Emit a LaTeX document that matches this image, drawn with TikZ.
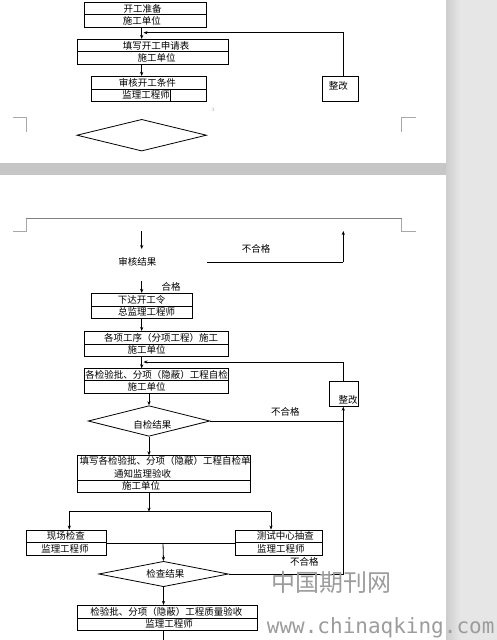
\documentclass[tikz,border=0pt]{standalone}
\usepackage{fontspec}
\usetikzlibrary{shapes.geometric,arrows.meta}
\newfontfamily\cjk{Noto Sans CJK SC}
\newfontfamily\wmmono{DejaVu Sans Mono}
\definecolor{gapgray}{HTML}{C6C6C6}
\definecolor{sidegray}{HTML}{E6E6E6}
\definecolor{shadowgray}{HTML}{CDCDCD}
\definecolor{markgray}{HTML}{A8A8A8}
\definecolor{hdrgray}{HTML}{808080}
\definecolor{wmgray}{HTML}{9C9C9C}
\definecolor{pnum}{HTML}{A8A8C0}
\begin{document}
\begin{tikzpicture}[x=1pt,y=-1pt,
  row/.style={draw, line width=0.8pt, rectangle, inner sep=0pt},
  txt/.style={font=\cjk\fontsize{9.5}{10}\selectfont, inner sep=0pt},
  dia/.style={draw, line width=0.8pt, diamond, inner sep=0pt, aspect=4},
  arr/.style={-{Stealth[length=4pt,width=3.2pt]}, line width=0.8pt},
  ln/.style={line width=0.8pt},
  cropmark/.style={draw=markgray, line width=0.6pt}]
\useasboundingbox (0,0) rectangle (497,640);
% background
\fill[white] (0,0) rectangle (497,640);
\fill[gapgray] (0,163) rectangle (446,175);
\fill[sidegray] (446,0) rectangle (497,640);
\shade[left color=shadowgray, right color=sidegray] (446,0) rectangle (460,640);

% helper x coordinates
\coordinate (xa) at (141.7,0);
\coordinate (xb) at (149,0);
\coordinate (xc) at (163,0);
\coordinate (xr) at (343.3,0);

% ---------- page 1 ----------
\node[row, minimum width=121.6pt, minimum height=12.4pt] (b1t) at (145.5,8.5) {};
\node[row, minimum width=121.6pt, minimum height=12.6pt] (b1b) at (145.5,21) {};
\node[txt] (t1a) at (142.5,8.5) {开工准备};
\node[txt] (t1b) at (141.8,21) {施工单位};

\node[row, minimum width=151pt, minimum height=12.4pt] (b2t) at (152.8,45.5) {};
\node[row, minimum width=151pt, minimum height=12.6pt] (b2b) at (152.8,58) {};
\node[txt] (t2a) at (156,45.5) {填写开工申请表};
\node[txt] (t2b) at (156.5,58) {施工单位};

\node[row, minimum width=114.6pt, minimum height=13pt] (b3t) at (149,82.8) {};
\node[row, minimum width=114.6pt, minimum height=12pt] (b3b) at (149,95.3) {};
\node[txt] (t3a) at (147.3,82.8) {审核开工条件};
\node[txt] (t3b) at (146.2,95.3) {监理工程师};
\draw[line width=1.1pt] (170.7,90.3) -- (170.7,100.5);

\node[row, minimum width=36pt, minimum height=25pt] (z1) at (340.3,88.8) {};
\node[txt] (tz1) at (338.3,86) {整改};

\node[dia, minimum width=129.6pt, minimum height=31.7pt] (d1) at (141.7,135.2) {};

\node[font=\fontsize{5}{5}\selectfont, text=pnum, inner sep=0pt] (pg) at (213,110) {3};

\coordinate (f1) at (143.5,32.7);
\draw[arr] (b1b.south -| xa) -- (b2t.north -| xa);
\draw[arr] (b2b.south -| xa) -- (b3t.north -| xa);
\draw[arr] (z1.north -| xr) |- (f1);

% crop marks page 1
\draw[cropmark] (13.3,117.3) -- (26.3,117.3) -- (26.3,131.7);
\draw[cropmark] (415.7,117.3) -- (401.7,117.3) -- (401.7,131.7);

% ---------- page 2 ----------
\draw[cropmark] (13.3,231.7) -- (26.3,231.7) -- (26.3,218.3);
\draw[cropmark] (415.7,231.7) -- (401.7,231.7) -- (401.7,218.3);
\draw[draw=hdrgray, line width=0.6pt] (26.3,218.3) -- (401.7,218.3);

\coordinate (p2a) at (141.7,231);
\coordinate (p2b) at (141.7,249);
\coordinate (p2c) at (141.7,281);
\coordinate (nr1) at (207,262.3);
\coordinate (p2r) at (343.3,231);
\node[txt] (rs) at (137.3,262.3) {审核结果};
\node[txt] (ng1) at (256,249.3) {不合格};
\node[txt] (ok1) at (171,286.7) {合格};
\draw[arr] (p2a) -- (p2b);
\draw[ln] (nr1) -- (nr1 -| xr);
\draw[arr] (nr1 -| xr) -- (p2r);

\node[row, minimum width=101pt, minimum height=13pt] (b4t) at (142.2,299.8) {};
\node[row, minimum width=101pt, minimum height=12pt] (b4b) at (142.2,312.3) {};
\node[txt] (t4a) at (141.7,299.8) {下达开工令};
\node[txt] (t4b) at (146.7,312.3) {总监理工程师};
\draw[arr] (p2c) -- (b4t.north -| xa);

\node[row, minimum width=143.6pt, minimum height=12.7pt] (b5t) at (156.5,337.7) {};
\node[row, minimum width=143.6pt, minimum height=12pt] (b5b) at (156.5,350) {};
\node[txt] (t5a) at (161.2,337.7) {各项工序（分项工程）施工};
\node[txt] (t5b) at (146.5,350) {施工单位};
\draw[arr] (b4b.south -| xa) -- (b5t.north -| xa);

\node[row, minimum width=143.6pt, minimum height=12pt] (b6t) at (156.5,374.7) {};
\node[row, minimum width=143.6pt, minimum height=12.6pt] (b6b) at (156.5,387) {};
\node[txt] (t6a) at (156.5,374.7) {各检验批、分项（隐蔽）工程自检};
\node[txt] (t6b) at (146.5,387) {施工单位};
\draw[arr] (b5b.south -| xa) -- (b6t.north -| xa);

\node[row, minimum width=28.6pt, minimum height=25pt] (z2) at (344,393.8) {};
\node[txt] (tz2) at (348,400) {整改};
\coordinate (f2) at (143.5,362);
\draw[arr] (z2.north -| xr) |- (f2);

\node[dia, minimum width=121.6pt, minimum height=30.6pt] (d2) at (149,421) {};
\node[txt] (td2) at (152.3,425) {自检结果};
\node[txt] (ng2) at (285.3,411.7) {不合格};
\draw[arr] (b6b.south -| xb) -- (d2.north);
\draw[arr] (d2.east) -| (z2.south -| xr);

\node[row, minimum width=173pt, minimum height=24.3pt] (b7t) at (163.8,467.85) {};
\node[row, minimum width=173pt, minimum height=12.3pt] (b7b) at (163.8,486.2) {};
\node[txt] (t7a) at (165,461) {填写各检验批、分项（隐蔽）工程自检单};
\node[txt] (t7b) at (142.7,474) {通知监理验收};
\node[txt] (t7c) at (141,486.2) {施工单位};
\draw[arr] (d2.south) -- (b7t.north -| xb);

\coordinate (hl) at (149,511.7);
\coordinate (hl1) at (69.3,511.7);
\coordinate (hl2) at (271,511.7);
\draw[arr] (b7b.south -| xb) -- (hl);
\draw[ln] (hl1) -- (hl2);

\node[row, minimum width=80pt, minimum height=12.7pt] (b8t) at (66.3,536.3) {};
\node[row, minimum width=80pt, minimum height=12.6pt] (b8b) at (66.3,549) {};
\node[txt] (t8a) at (65.8,536.3) {现场检查};
\node[txt] (t8b) at (65,549) {监理工程师};

\node[row, minimum width=87pt, minimum height=12.7pt] (b9t) at (278.8,536.3) {};
\node[row, minimum width=87pt, minimum height=12.6pt] (b9b) at (278.8,549) {};
\node[txt] (t9a) at (285.3,536.3) {测试中心抽查};
\node[txt] (t9b) at (280.8,549) {监理工程师};

\draw[arr] (hl1) -- (b8t.north -| hl1);
\draw[arr] (hl2) -- (b9t.north -| hl2);
\draw[ln] (b8t.south east) -- (b9t.south west);

\node[dia, minimum width=129.6pt, minimum height=25.4pt] (d3) at (163.5,574) {};
\node[txt] (td3) at (165.3,574.3) {检查结果};
\node[txt] (ng3) at (304.3,562) {不合格};
\draw[arr] (b8t.south east -| xc) -- (d3.north);
\draw[ln] (d3.east) -| (d2.east -| xr);

\node[row, minimum width=180pt, minimum height=12.7pt] (b10t) at (167.3,611.7) {};
\node[row, minimum width=180pt, minimum height=12.3pt] (b10b) at (167.3,624.2) {};
\node[txt] (t10a) at (166.3,611.7) {检验批、分项（隐蔽）工程质量验收};
\node[txt] (t10b) at (169,624.2) {监理工程师};
\draw[arr] (d3.south) -- (b10t.north -| d3.south);
\coordinate (bot) at (163,641);
\draw[ln] (b10b.south -| xc) -- (bot);

% watermark
\node[font=\cjk\fontsize{24}{24}\selectfont, text=wmgray, inner sep=0pt] (wm1) at (331.7,582.5) {中国期刊网};
\node[font=\wmmono\fontsize{21}{22}\selectfont, text=wmgray, inner sep=0pt, anchor=base west] (wm2) at (266.7,633) {www.chinaqking.com};
\end{tikzpicture}
\end{document}
